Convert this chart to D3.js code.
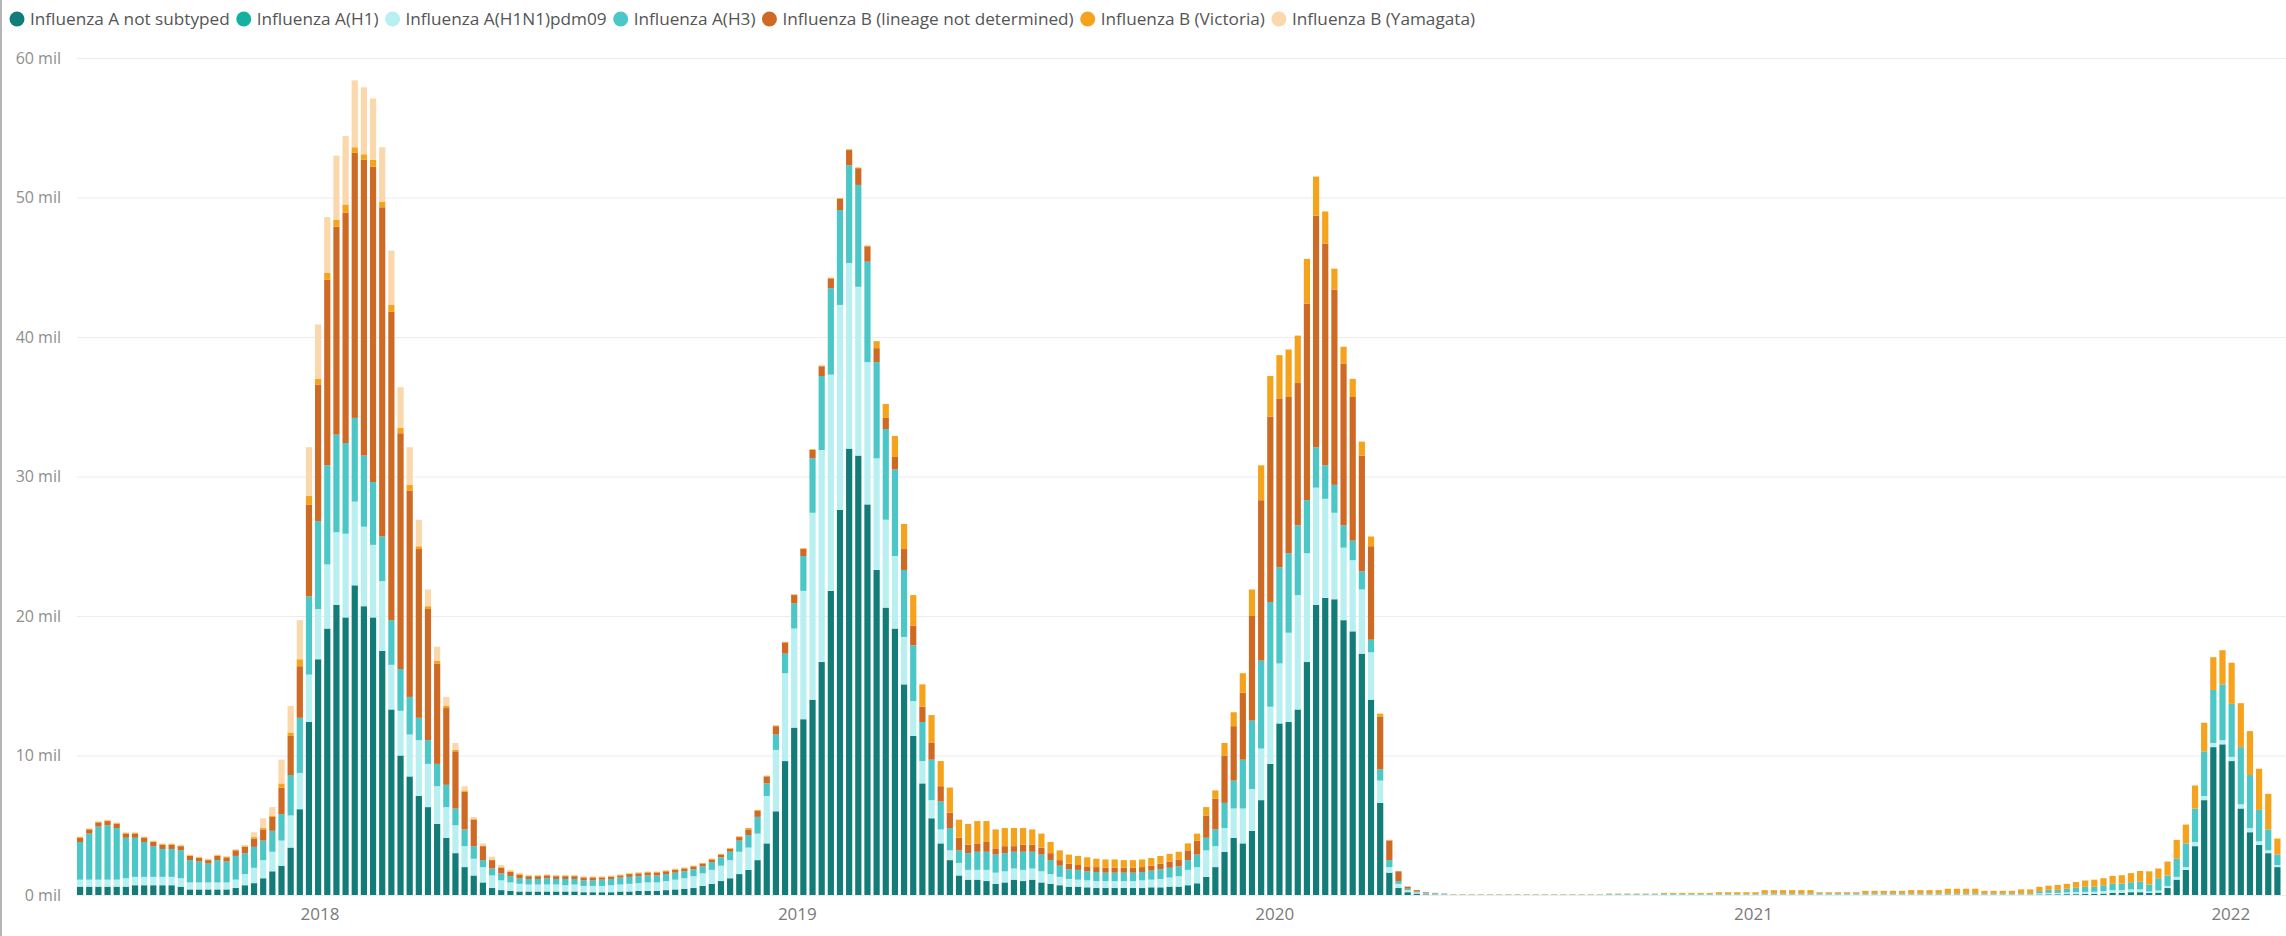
<!DOCTYPE html>
<html>
<head>
<meta charset="utf-8">
<script src="https://cdn.jsdelivr.net/npm/d3@7"></script>
<style>
  body { margin: 0; background: #fff; }
  svg { display: block; font-family: "Segoe UI", "Open Sans", sans-serif; }
</style>
</head>
<body>
<svg id="chart" width="2286" height="936"></svg>
<script>
// weekly reporting periods, first and last week shown
var firstWeek = new Date(Date.UTC(2017, 6, 2));
var lastWeek = new Date(Date.UTC(2022, 1, 6));
var weeks = d3.utcSunday.range(firstWeek, d3.utcDay.offset(lastWeek, 1));

var seriesNames = [
  "Influenza A not subtyped",
  "Influenza A(H1)",
  "Influenza A(H1N1)pdm09",
  "Influenza A(H3)",
  "Influenza B (lineage not determined)",
  "Influenza B (Victoria)",
  "Influenza B (Yamagata)"
];
var seriesColors = ["#127c78", "#14b1a1", "#b8eff0", "#4cc7c7", "#cf6a24", "#f5a31c", "#fad8ab"];

// values in millions, one per week
var aNotSubtyped = [
  .6,.6,.6,.6,.6, .6,.7,.7,.7,.7,.7,.6, .4,.4,.4,.4,.4, .5,.7,.85,1.2,1.7,
  2.1,3.4,6.15,12.4,16.9,19.1, 20.8,19.9,22.2,20.7,19.9,17.5, 13.3,10.0,8.5,7.1,6.3,5.1,
  4.1,3.0,2.0,1.4,.9,.5, .35,.3,.25,.25, .25,.25,.25,.25,.25,.2,.2,.2,.2,.25,
  .25,.3,.3,.3,.35, .4,.45,.5,.65,.8,1.0,1.2,1.5, 1.8,2.5,3.7,6.0,9.6,12.0,12.6,
  14.0,16.7,21.8,27.6,32.0,31.5,28.0, 23.3,20.6,19.1,15.1,11.4,8.0,5.5, 3.7,2.5,1.4,1.1,1.1,1.0,
  .8,.9,1.1,1.0,1.1,.9,.8, .7,.6,.6,.55,.5,.5,.5, .5,.5,.5,.55,.55,.6,.6,
  .7,.84,1.3,2.0,3.1,4.1,3.7, 4.6,6.8,9.4,12.3,12.4,13.3,16.7, 20.8,21.3,21.2,19.7,18.9,17.3,14.0,
  6.6,1.6,.5,.2,.1,.05,.04,.03,
  .01,.01,.01,.01,.01,.01,.01,.01,.01,.01,.01,.01,.01,.01,.01,.01,.01,
  .02,.02,.02,.02,.02,.02,.02,.02,.02,.02,.02,.02,.02,.02,.02,.02,.02,
  .03,.03,.03,.03,.03,.03,.03,.03,.03,.03,.03,.03,.03,.03,.03,.03,.03,.03,.03,.03,.03,.03,.03,.03,.03,.03,.03,.03,.03,.03,
  .04,.05,.05,.06,.06,.07,.08,.1,.15,.15,.2,.2,
  .15,.17,.5,1.1,1.8,3.5,6.8,10.6, 10.8,9.6,6.2,4.5,3.6,3.0,2.0
];
var aH1 = [
  0,0,0,0,0,0,0,0,0,0,0,0,0,0,0,0,0,0,0,0,0,0,0,0,0,0,0,0,0,0,0,0,0,0,0,0,0,0,0,0,
  0,0,0,0,0,0,0,0,0,0,0,0,0,0,0,0,0,0,0,0,0,0,0,0,0,0,0,0,0,0,0,0,0,0,0,0,0,0,0,0,
  0,0,0,0,0,0,0,0,0,0,0,0,0,0,0,0,0,0,0,0,0,0,0,0,0,0,0,0,0,0,0,0,0,0,0,0,0,0,0,0,
  0,0,0,0,0,0,0,0,0,0,0,0,0,0,0,0,0,0,0,0,0,0,0,0,0,0,0,0,0,0,0,0,0,0,0,0,0,0,0,0,
  0,0,0,0,0,0,0,0,0,0,0,0,0,0,0,0,0,0,0,0,0,0,0,0,0,0,0,0,0,0,0,0,0,0,0,0,0,0,0,0,
  0,0,0,0,0,0,0,0,0,0,0,0,0,0,0,0,0,0,0,0,0,0,0,0,0,0,0,0,0,0,0,0,0,0,0,0,0,0,0,0,
  0
];
var aH1N1pdm09 = [
  .5,.5,.5,.5,.5, .6,.6,.6,.6,.6,.6,.6, .5,.5,.5,.5,.5, .6,.8,1.1,1.3,1.4,
  1.8,2.3,2.6,3.4,3.6,4.6, 5.2,6.0,6.0,5.7,5.2,5.0, 3.2,3.2,3.0,4.0,3.1,2.7,
  2.2,2.0,1.5,1.2,1.1,.9, .7,.6,.55,.5, .5,.5,.5,.45,.5,.45,.45,.45,.5,.5,
  .55,.55,.6,.6,.65, .7,.75,.85,.9,1.0,1.1,1.3,1.6, 1.6,1.9,3.4,4.4,6.3,7.1,9.2,
  13.4,15.2,15.5,14.7,13.3,12.1,10.2, 8.0,6.3,5.2,3.4,2.5,1.6,1.3, 1.0,.7,.9,.7,.7,.8,
  .8,.8,.8,.8,.8,.8,.7, .6,.55,.5,.5,.5,.5,.5, .5,.5,.55,.55,.6,.65,.75,
  1.1,1.16,1.9,1.5,1.7,2.1,2.5, 3.0,3.7,4.1,4.3,6.4,8.2,7.8, 8.4,7.1,6.2,5.2,5.1,4.6,3.4,
  1.6,.4,.3,.15,.08,.05,.04,.03,
  .01,.01,.01,.01,.01,.01,.01,.01,.01,.01,.01,.01,.01,.01,.01,.01,.01,
  .02,.02,.02,.02,.02,.02,.02,.02,.02,.02,.02,.02,.02,.02,.02,.02,.02,
  .03,.03,.03,.03,.03,.03,.03,.03,.03,.03,.03,.03,.03,.03,.03,.03,.03,.03,.03,.03,.03,.03,.03,.03,.03,.03,.03,.03,.03,.03,
  .08,.1,.1,.12,.15,.15,.15,.18,.2,.2,.2,.2,
  .1,.15,.15,.2,.2,.3,.3,.3, .3,.3,.3,.3,.25,.2,.15
];
var aH3 = [
  2.7,3.3,3.8,3.9,3.7, 2.9,2.8,2.5,2.2,2.0,2.0,2.0, 1.6,1.5,1.35,1.6,1.5, 1.7,1.5,1.5,1.4,1.5,
  1.9,2.9,3.95,5.6,6.3,7.1, 7.0,6.5,6.0,5.1,4.5,3.2, 3.2,3.0,2.7,1.6,1.7,1.6,
  1.6,1.2,1.2,.9,.5,.5, .5,.45,.4,.4, .4,.45,.4,.45,.4,.4,.4,.45,.45,.5,
  .5,.5,.5,.5,.5, .5,.5,.5,.5,.55,.6,.6,.8, .9,1.2,.9,1.1,1.4,1.8,2.5,
  3.9,5.3,6.2,6.8,7.0,7.3,7.2, 6.9,6.5,6.2,4.8,4.0,2.8,2.9, 2.0,1.6,.9,1.2,1.3,1.3,
  1.3,1.3,1.2,1.3,1.2,1.2,1.0, .8,.7,.7,.65,.65,.6,.6, .6,.6,.6,.65,.7,.7,.7,
  .7,.9,.9,1.2,1.8,2.0,3.5, 4.9,6.3,7.5,6.9,5.7,5.0,3.8, 2.9,2.4,2.0,1.6,1.4,1.3,.9,
  .8,.5,.2,.1,.07,.05,.04,.03,
  .02,.02,.02,.02,.02,.02,.02,.02,.02,.02,.02,.02,.02,.02,.02,.02,.02,
  .03,.03,.03,.03,.03,.03,.03,.03,.03,.03,.03,.03,.03,.03,.03,.03,.03,
  .05,.05,.05,.05,.05,.05,.05,.05,.05,.05,.05,.05,.05,.05,.05,.05,.05,.05,.05,.05,.05,.05,.05,.05,.05,.05,.05,.05,.05,.05,
  .15,.2,.2,.25,.3,.35,.35,.4,.45,.45,.5,.55,
  .5,.88,.75,1.3,1.7,2.4,3.2,3.8, 4.0,3.8,4.1,3.8,2.25,1.5,.75
];
var bNotDetermined = [
  .3,.3,.3,.3,.3, .3,.3,.3,.3,.3,.3,.3, .3,.25,.25,.3,.3, .4,.45,.6,.8,1.0,
  1.9,2.8,3.7,6.6,9.8,13.3, 14.9,16.5,19.0,21.2,22.6,23.6, 22.1,16.9,14.8,12.1,9.4,7.2,
  5.5,4.1,2.7,1.9,1.0,.6, .4,.3,.25,.2, .2,.2,.2,.2,.2,.2,.2,.15,.15,.15,
  .2,.2,.2,.2,.2, .2,.2,.2,.2,.2,.2,.2,.25, .4,.45,.5,.6,.8,.6,.5,
  .6,.7,.7,.8,1.1,1.2,1.1, 1.0,.8,.9,1.5,1.4,1.1,1.2, 1.1,1.1,.9,.6,.6,.7,
  .4,.5,.4,.5,.5,.5,.5, .4,.4,.35,.35,.35,.35,.35, .35,.35,.35,.35,.4,.45,.5,
  .7,1.0,1.6,2.2,3.4,3.9,4.8, 7.5,11.5,13.3,12.1,11.2,10.2,14.1, 16.6,15.9,14.0,11.6,10.3,8.3,6.7,
  3.8,1.4,.7,.15,.1,.05,.03,.02,
  0,0,0,0,0,0,0,0,0,0,0,0,0,0,0,0,0,
  .01,.01,.01,.01,.01,.01,.01,.01,.01,.01,.01,.01,.01,.01,.01,.01,.01,
  .02,.02,.02,.02,.02,.02,.02,.02,.02,.02,.02,.02,.02,.02,.02,.02,.02,.02,.02,.02,.02,.02,.02,.02,.02,.02,.02,.02,.02,.02,
  .02,.02,.02,.02,.02,.02,.02,.02,.02,.02,.02,.02,
  0,0,0,0,0,0,0,0, 0,0,0,0,0,0,0
];
var bVictoria = [
  .05,.05,.05,.05,.05, .05,.05,.05,.05,.05,.05,.05, .05,.05,.05,.05,.05, .05,.05,.1,.1,.1,
  .3,.25,.5,.6,.4,.5, .5,.6,.4,.4,.5,.4, .5,.4,.4,.2,.2,.2,
  .15,.1,.1,.05,.05,.05, .05,.05,.05,.05, .05,.05,.05,.05,.05,.05,.05,.05,.05,.05,
  .05,.05,.05,.05,.05, .05,.05,.05,.05,.05,.05,.05,.05, .1,.05,.05,.05,.05,.05,.05,
  .05,.05,.05,.05,.05,.05,.05, .5,1.0,1.5,1.8,2.2,1.6,2.0, 1.8,1.8,1.3,1.5,1.6,1.5,
  1.4,1.3,1.3,1.2,1.1,1.0,.8, .7,.65,.65,.65,.6,.6,.6, .55,.55,.55,.55,.55,.55,.55,
  .5,.5,.6,.6,.9,1.0,1.4, 1.9,2.5,2.9,3.1,3.4,3.4,3.2, 2.8,2.3,1.5,1.2,1.3,1.0,.7,
  .2,.05,0,0,0,0,0,0,
  .02,.02,.02,.02,.02,.02,.02,.02,.02,.02,.02,.02,.02,.02,.02,.02,.02,
  .02,.02,.02,.02,.02,.02,.07,.07,.07,.07,.07,.07,.12,.12,.12,.12,.12,
  .22,.22,.22,.22,.22,.22,.07,.07,.07,.07,.07,.17,.17,.17,.17,.17,.22,.22,.22,.22,.32,.32,.32,.32,.17,.17,.17,.17,.27,.27,
  .3,.3,.35,.35,.4,.45,.5,.5,.55,.6,.65,.75,
  .95,.7,1.0,1.35,1.35,1.65,2.05,2.35, 2.45,2.95,3.15,3.15,2.95,2.55,1.15
];
var bYamagata = [
  .05,.05,.05,.05,.05, .05,.05,.05,.05,.05,.05,.05, .05,.05,.05,.05,.05, .05,.1,.35,.7,.6,
  1.7,1.9,2.8,3.5,3.9,4.0, 4.6,4.9,4.8,4.8,4.4,3.9, 3.9,2.9,2.7,1.9,1.2,1.0,
  .65,.5,.3,.15,.15,.2, .15,.1,.1,.05, .05,.05,.05,.05,.05,.05,.05,.05,.05,.05,
  .05,.05,.05,.05,.05, .05,.05,0,0,0,0,0,0, 0,0,0,0,0,0,0,
  0,0,0,0,0,0,0,0,0,0,0,0,0,0,0,0,0,0,0,0,0,0,0,0,0,0,0,0,0,0,0,0,0,0,0,0,0,0,0,0,
  0,0,0,0,0,0,0,0,0,0,0,0,0,0,0,0,0,0,0,0,0,0,0,0,0,0,0,0,0,0,0,0,0,0,0,0,0,0,0,0,
  0,0,0,0,0,0,0,0,0,0,0,0,0,0,0,0,0,0,0,0,0,0,0,0,0,0,0,0,0,0,0,0,0,0,0,0,0,0,0,0,
  0,0,0,0,0,0,0,0,0,0,0,0,0,0,0,0,0,0,0,0,0,0,0,0,0,0,0,0,0,0,0,0,0,0,0,0,0,0,0,0,
  0
];
var yTicks = [0, 10, 20, 30, 40, 50, 60];
var yearTicks = [2018, 2019, 2020, 2021, 2022];

window.onload = function () {
  var svg = d3.select("#chart");
  var values = [aNotSubtyped, aH1, aH1N1pdm09, aH3, bNotDetermined, bVictoria, bYamagata];

  var table = weeks.map(function (d, i) {
    var row = { date: d };
    seriesNames.forEach(function (name, s) { row[name] = values[s][i] || 0; });
    return row;
  });

  var x = d3.scaleUtc()
    .domain([d3.utcHour.offset(firstWeek, -84), d3.utcHour.offset(lastWeek, 84)])
    .range([75.5, 2282]);
  var y = d3.scaleLinear().domain([0, 60]).range([895, 58]);
  var color = d3.scaleOrdinal().domain(seriesNames).range(seriesColors);
  var barW = 6.2;

  // left frame line
  svg.append("rect").attr("x", 0).attr("y", 0).attr("width", 2).attr("height", 936).style("fill", "#b4b4b4");

  // y axis and grid
  var yAxis = svg.append("g")
    .attr("transform", "translate(77,0)")
    .call(d3.axisLeft(y).tickValues(yTicks).tickFormat(function (d) { return d + " mil"; })
      .tickSize(-(2286 - 77)).tickPadding(16));
  yAxis.select(".domain").remove();
  yAxis.selectAll("line").style("stroke", "#ececec");
  yAxis.selectAll("text").style("fill", "#8e8e8e").style("font-size", "16px")
    .style("font-family", "\"Segoe UI\", \"Open Sans\", sans-serif");

  // x axis (years)
  var xAxis = svg.append("g")
    .attr("transform", "translate(0,895)")
    .call(d3.axisBottom(x)
      .tickValues(yearTicks.map(function (yr) { return new Date(Date.UTC(yr, 0, 1)); }))
      .tickFormat(d3.utcFormat("%Y")).tickSize(0).tickPadding(13));
  xAxis.select(".domain").remove();
  xAxis.selectAll("text").style("fill", "#7a7a7a").style("font-size", "17px")
    .style("font-family", "\"Segoe UI\", \"Open Sans\", sans-serif");

  // stacked bars
  var stacked = d3.stack().keys(seriesNames)(table);
  svg.append("g").selectAll("g")
    .data(stacked)
    .enter().append("g")
    .style("fill", function (d) { return color(d.key); })
    .selectAll("rect")
    .data(function (d) { return d; })
    .enter().append("rect")
    .attr("x", function (d) { return x(d.data.date) - barW / 2; })
    .attr("y", function (d) { return y(d[1]); })
    .attr("width", barW)
    .attr("height", function (d) { return Math.max(0, y(d[0]) - y(d[1])); });

  // legend
  var legend = svg.append("g").attr("transform", "translate(0,19)");
  var cx = 17;
  seriesNames.forEach(function (name) {
    legend.append("circle").attr("cx", cx).attr("cy", 0).attr("r", 7.5).style("fill", color(name));
    var t = legend.append("text")
      .attr("x", cx + 13).attr("y", 0).attr("dy", "0.35em")
      .style("font-size", "17.2px").style("fill", "#555")
      .text(name);
    cx = cx + 13 + t.node().getComputedTextLength() + 14;
  });
};
</script>
</body>
</html>
